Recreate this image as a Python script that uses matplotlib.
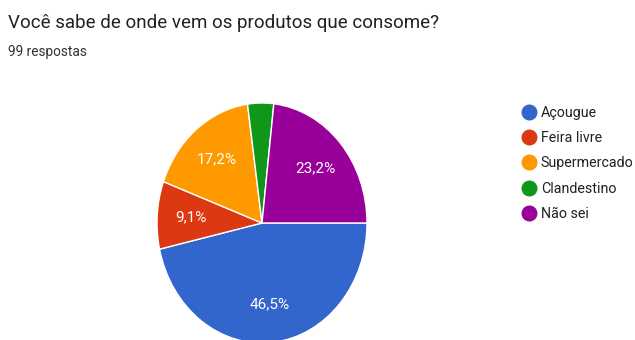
import matplotlib
matplotlib.use("Agg")
from matplotlib import pyplot as plt
from matplotlib.lines import Line2D

plt.rcParams['font.family'] = ['Roboto', 'DejaVu Sans']

TITLE = 'Você sabe de onde vem os produtos que consome?'
SUBTITLE = '99 respostas'
labels = ['Açougue', 'Feira livre', 'Supermercado', 'Clandestino', 'Não sei']
values = [46.5, 9.1, 17.2, 4.0, 23.2]
colors = ['#3366cc', '#dc3912', '#ff9900', '#109618', '#990099']


def pct_label(p):
    # google forms hides the label on small slices
    if p < 5:
        return ''
    return ('%.1f%%' % p).replace('.', ',')


fig = plt.figure(figsize=(6.35, 3.4), dpi=100)

# pie is a bit stretched vertically in the screenshot, and cut at the bottom
ax = fig.add_axes([157 / 635, -3 / 340, 210 / 635, 240 / 340])
wedges, texts, autotexts = ax.pie(
    values, colors=colors, startangle=0, counterclock=False,
    autopct=pct_label, pctdistance=0.68, radius=1,
    wedgeprops={'edgecolor': 'white', 'linewidth': 1},
    textprops={'color': 'white', 'fontsize': 11})
ax.set_aspect('auto')
ax.set_xlim(-1, 1)
ax.set_ylim(-1, 1)
ax.axis('off')

fig.text(8 / 635, 1 - 28 / 340, TITLE, fontsize=13.5, color='#212121')
fig.text(8 / 635, 1 - 56 / 340, SUBTITLE, fontsize=9.8, color='#333333')

handles = [Line2D([], [], linestyle='none', marker='o', markersize=10.5,
                  markerfacecolor=c, markeredgecolor=c) for c in colors]
fig.legend(handles, labels, loc='upper left',
           bbox_to_anchor=(513 / 635, 1 - 99 / 340), frameon=False,
           fontsize=10.3, labelspacing=0.78, handletextpad=0.25,
           handlelength=1.2, borderpad=0, labelcolor='#212121')

fig.savefig('out.png', dpi=100)
